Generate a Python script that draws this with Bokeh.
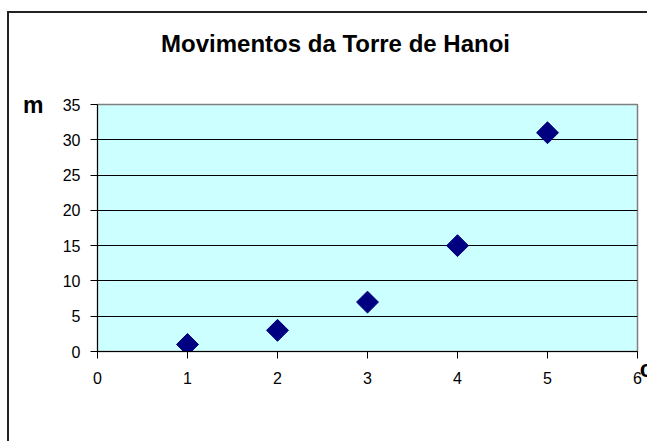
import math
from bokeh.plotting import figure
from bokeh.models import Range1d, FixedTicker, LinearAxis, Title
from bokeh.embed import file_html
from bokeh.resources import INLINE

# data
disks = [1, 2, 3, 4, 5]
moves = [1, 3, 7, 15, 31]
xticks = [0, 1, 2, 3, 4, 5, 6]
yticks = [0, 5, 10, 15, 20, 25, 30, 35]
title_text = "Movimentos da Torre de Hanoi"
ylabel_text = "m"
xlabel_text = "c"

FONT = "Liberation Sans"

p = figure(width=647, height=441, output_backend="svg", toolbar_location=None,
           x_range=Range1d(xticks[0], xticks[-1]), y_range=Range1d(yticks[0], yticks[-1]))
p.min_border_left = 97
p.min_border_right = 10
p.min_border_top = 104
p.min_border_bottom = 90

p.background_fill_color = "#CCFFFF"
p.border_fill_color = None
p.outline_line_color = "#808080"
p.outline_line_width = 1.5

# outer chart border (cut at right and bottom like the reference)
p.styles = {
    "background-image": "linear-gradient(#222,#222), linear-gradient(#222,#222)",
    "background-size": "100% 2px, 2px 100%",
    "background-position": "7px 11px, 7px 11px",
    "background-repeat": "no-repeat",
    "background-color": "white",
}

p.xgrid.visible = False
p.ygrid.ticker = FixedTicker(ticks=yticks[1:-1])
p.ygrid.grid_line_color = "black"
p.ygrid.grid_line_width = 1

for ax in (p.xaxis[0], p.yaxis[0]):
    ax.axis_line_color = "black"
    ax.axis_line_width = 1
    ax.major_tick_line_color = "black"
    ax.major_tick_in = 0
    ax.major_tick_out = 7
    ax.minor_tick_line_color = None
    ax.major_label_text_font = FONT
    ax.major_label_text_font_size = "16px"
    ax.major_label_text_color = "black"

p.xaxis.ticker = FixedTicker(ticks=xticks)
p.yaxis.ticker = FixedTicker(ticks=yticks)
p.xaxis.major_label_standoff = 13
p.yaxis.major_label_standoff = 10

p.scatter(x=disks, y=moves, marker="square", angle=math.pi / 4, size=15.5,
          fill_color="#000080", line_color="#000080", line_width=1)

# chart title, carried by a bare axis above the frame (pixel-based helper range)
p.extra_x_ranges = {"title": Range1d(0, 540)}
TITLE_POS = 238
t_axis = LinearAxis(x_range_name="title", ticker=FixedTicker(ticks=[TITLE_POS]),
                    major_label_overrides={TITLE_POS: title_text})
t_axis.axis_line_color = None
t_axis.major_tick_line_color = None
t_axis.minor_tick_line_color = None
t_axis.major_tick_in = 0
t_axis.major_tick_out = 0
t_axis.major_label_standoff = 48
t_axis.major_label_text_font = FONT
t_axis.major_label_text_font_size = "24px"
t_axis.major_label_text_font_style = "bold"
t_axis.major_label_text_color = "black"
p.add_layout(t_axis, "above")

# "m" label beside the top of the vertical axis
m_axis = LinearAxis(ticker=FixedTicker(ticks=[yticks[-1]]),
                    major_label_overrides={yticks[-1]: ylabel_text})
m_axis.axis_line_color = None
m_axis.major_tick_line_color = None
m_axis.minor_tick_line_color = None
m_axis.major_tick_in = 0
m_axis.major_tick_out = 0
m_axis.major_label_standoff = 16
m_axis.major_label_text_font = FONT
m_axis.major_label_text_font_size = "23px"
m_axis.major_label_text_font_style = "bold"
m_axis.major_label_text_color = "black"
p.add_layout(m_axis, "left")

# "c" label at the end of the horizontal axis
c_title = Title(text=xlabel_text, align="right", offset=-15, standoff=-62,
                vertical_align="top", text_font=FONT, text_font_size="23px",
                text_font_style="bold", text_color="black")
p.add_layout(c_title, "below")

open("out.html", "w").write(file_html(p, INLINE))
